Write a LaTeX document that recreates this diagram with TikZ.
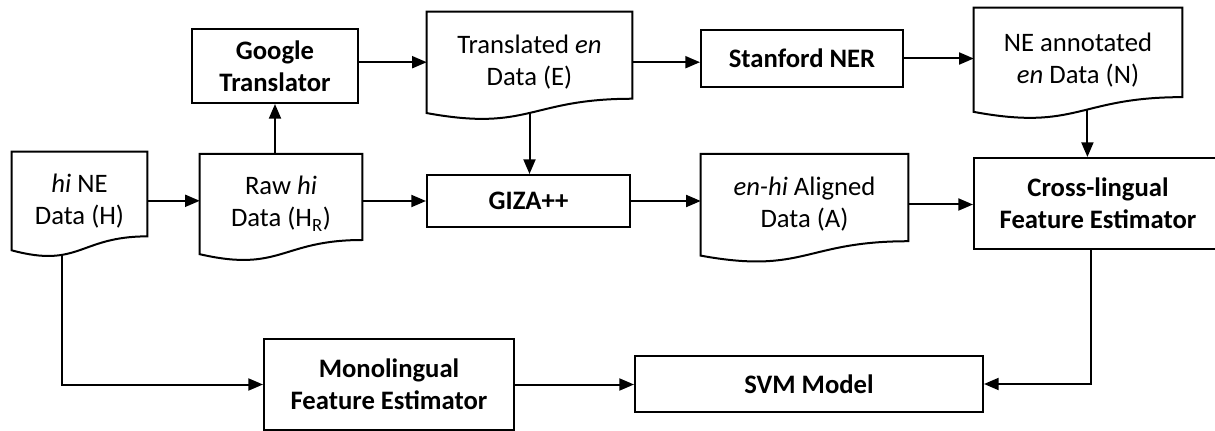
\documentclass[tikz,border=0pt]{standalone}
\usepackage{fontspec}
\setmainfont{Carlito}
\usetikzlibrary{arrows.meta,calc}
\tikzset{
  base/.style={align=center, inner sep=0pt, font=\fontsize{20}{24}\selectfont},
  box/.style={base, draw, line width=1.5pt, font=\fontsize{20}{24}\selectfont\bfseries},
  docnode/.style={base},
  arr/.style={line width=1.5pt, -{Triangle[length=11pt,width=9pt]}},
  docline/.style={line width=1.5pt, line join=miter},
}
\newcommand\docoutline[2]{%
  \draw[docline] (#1.north west) -- (#1.north east) -- ($(#1.north east)!0.862!(#1.south east)$)
    .. controls ($(#1.north)!0.862!(#1.south)$) and ($(#1.north)!1.191!(#1.south)$) ..
    ($(#1.north west)!1.004!(#1.south west)$) coordinate[pos=#2] (#1-b) -- cycle;}
\begin{document}
\begin{tikzpicture}[x=0.75pt,y=-0.75pt]
\useasboundingbox (0,0) rectangle (1215,431);
\clip (0,0) rectangle (1215,431);
% document nodes
\node[docnode, minimum width=101.25pt, minimum height=73.3pt] (H) at (79.5,200.8) {\textit{hi} NE\\Data (H)};
\node[docnode, minimum width=121.5pt, minimum height=74.6pt] (HR) at (281,203.8) {Raw \textit{hi}\\Data (H\textsubscript{R})};
\node[docnode, minimum width=153.75pt, minimum height=75.3pt] (E) at (529.5,62.2) {Translated \textit{en}\\Data (E)};
\node[docnode, minimum width=156pt, minimum height=77.4pt] (N) at (1078,59.6) {NE annotated\\\textit{en} Data (N)};
\node[docnode, minimum width=155.25pt, minimum height=75.7pt] (A) at (804.5,204.5) {\textit{en-hi} Aligned\\Data (A)};
\docoutline{H}{0.665}
\docoutline{HR}{0.5}
\docoutline{E}{0.5}
\docoutline{N}{0.44}
\docoutline{A}{0.5}
% process boxes
\node[box, minimum width=124.5pt, minimum height=55.5pt] (Go) at (275,66) {Google\\Translator};
\node[box, minimum width=151.5pt, minimum height=42.75pt] (St) at (802,58.5) {Stanford NER};
\node[box, minimum width=152.25pt, minimum height=39pt] (GZ) at (528.5,201) {GIZA++};
\node[box, minimum width=186pt, minimum height=68.25pt] (C) at (1098,203.5) {Cross-lingual\\Feature Estimator};
\node[box, minimum width=187.5pt, minimum height=68.25pt] (M) at (389,384.5) {Monolingual\\Feature Estimator};
\node[box, minimum width=261pt, minimum height=42pt] (S) at (809,384) {SVM Model};
% connectors
\draw[arr] (H.east) -- (H.east -| HR.west);
\draw[arr] (Go.south |- HR.north) -- (Go.south);
\draw[arr] (Go.east |- E.west) -- (E.west);
\draw[arr] (E.east) -- (E.east -| St.west);
\draw[arr] (St.east) -- (St.east -| N.west);
\draw[arr] (E-b) -- (E-b |- GZ.north);
\draw[arr] (HR.east |- GZ.west) -- (GZ.west);
\draw[arr] (GZ.east) -- (GZ.east -| A.west);
\draw[arr] (A.east) -- (A.east -| C.west);
\draw[arr] (N-b) -- (N-b |- C.north);
\draw[arr] ([xshift=-5.25pt]C.south) |- (S.east);
\draw[arr] (H-b) |- (M.west);
\draw[arr] (M.east) -- (M.east -| S.west);
\end{tikzpicture}
\end{document}
